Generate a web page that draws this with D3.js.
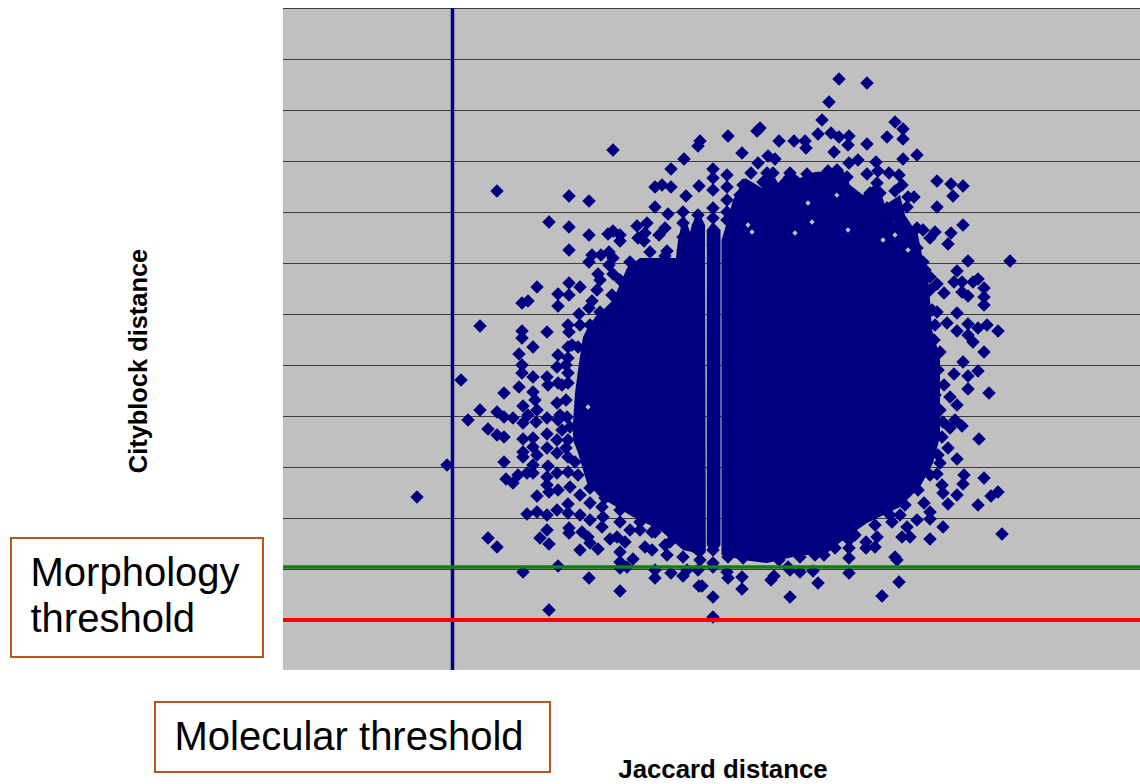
<!DOCTYPE html>
<html>
<head>
<meta charset="utf-8">
<title>Cityblock vs Jaccard distance</title>
<script src="https://cdn.jsdelivr.net/npm/d3@7"></script>
<style>
html, body { margin: 0; padding: 0; background: #fff; }
svg { display: block; font-family: "Liberation Sans", Arial, sans-serif; }
</style>
</head>
<body>
<script>
// the axes have no tick labels, so the units are arbitrary
const xDomain = [0, 85.7];
const yDomain = [0, 66.2];
const gridValues = [5, 10.1, 15.2, 20.3, 25.4, 30.5, 35.6, 40.7, 45.8, 50.9, 56, 61.1, 66.2];

const molecularThreshold = 16.95;
const morphologyThreshold = 10.3;
const redThreshold = 5;

const upperLeftPoints = [
    [33,52],[21.4,47.9],[28.6,47.4],[30.6,46.9],[41.7,52.9],[41.5,52.4],[40.1,51.1],[38.8,50.1],[37.2,48.3],[37.9,48.5],
    [38.8,48.3],[41.6,48.4],[40.3,47.4],[37.2,46.3],[38.5,45.6],[26.6,44.8],[28.6,44.3],[30.6,43.5],[28.6,42],[32.5,43.6],
    [33,43.9],[33.7,43.5],[33.7,42.9],[35.4,44.4],[36.4,44.7],[36.2,43.7],[35.5,43.2],[36.1,42.9],[38.2,44.2],[37.6,43.5],
    [30.9,41.5],[31.8,41.5],[32.6,41.8],[33,41.2],[30.6,40.8],[32.6,40.5],[33,39.6],[31.5,39.6],[31.7,39],[31.4,38],
    [25.4,38.3],[28.6,38.7],[29.7,38.3],[27.5,37.6],[28.6,37.5],[27.5,36.4],[24.5,36.9],[23.9,36.7],[30.9,36.9],[30.6,36.2],
    [19.7,34.4],[23.9,33.9],[26.4,33.8],[29.6,35.6],[28.5,34.5],[29.7,34.5],[28.6,33.8],[31.8,35.2],[23.9,33.2],
    [36.7,41.8],[38.4,41.9]
];

// points that stack up on the discrete Jaccard values
const columnPoints = [
    [40,45.8],[40,44.7],[40,43.3],[40,42],
    [41.5,45.5],[41.5,44.5],[41.5,43.5],[41.5,42.5],[41.5,41.5],
    [43,50.1],[43,49.2],[43,48],[43,46.2],[43,45.2],[43,43.8],[43,42.5],
    [44.4,49.5],[44.4,48.3],[44.4,47],[44.4,45.8],[44.4,45]
];

const upperRightPoints = [
    [55.6,59.1],[58.4,58.7],[54.6,56.8],[53.9,55],[61.2,54.8],[62,54.1],[47.7,54.2],[47.4,53.9],[44.5,53.4],[49.6,52.9],
    [51.1,52.9],[52.2,52.9],[52.3,52.2],[53.5,53.6],[54.8,53.7],[55.6,53.3],[56.6,53.4],[56.5,52.5],[58.4,52.6],[60.4,53.3],
    [62,53.1],[45.9,51.7],[55.1,51.8],[63.4,51.5],[62,51.1],[48.5,51.4],[49.2,51.1],[47.5,50.7],[57.5,51],[56.6,50.7],
    [59.3,50.8],[59.5,49.9],[46.8,49.7],[50.7,49.7],[50.7,49.3],[52.4,49.6],[54.5,49.9],[55.4,50],[58.4,49.6],[60.6,49.7],
    [61.6,49.5],[65.4,48.9],[66.8,48.6],[68,48.4],[67,47.4],[61.9,48.5],[61.2,47.9],[65.4,46.3],[63.1,47.3],[62.5,47.3],
    [62.4,46.3],[68,44.5],[66.8,43.7],[66.5,42.6],[68.5,40.9],[72.7,40.9],[67.4,39.9],[67.1,38.8],[67.9,38.8],[69,38.8],
    [69.5,39.1],[70.1,38.2],[70.1,37.3],[70.1,36.5],[67.9,37.8],[68.5,37.4],[66.1,37.7],[65.4,38.6],[64.7,39.3],[65.4,35.8],
    [67.4,35.7],[66.4,34.7],[67.4,33.9],[68.5,34.6],[69.5,34.2],[70.4,34.5],[71.5,33.9],[68.5,33.5],[63.4,44.2],[64,44],
    [65.2,43.8],[64.7,43.2],[62.4,43.3],[61.5,45.1],[63.4,42.2],[64,40.8],[46,48.5],[45.7,47.5],[45.9,46.3],[48.4,49.7],
    [48,48.8],[49,49.7],[50.5,48],[52,48],[53.2,47.5],[52.7,49],[54.5,49.3],[56.4,49.3],[56,47.8],[56.6,47.8],
    [58.7,47.7],[59.4,48.7],[59.7,47.7],[58.5,46.3],[60.4,46.2],[61,46.2]
];

const lowerLeftPoints = [
    [25,32.3],[23.6,31.6],[23.9,30.5],[23.9,29.7],[25,29.3],[17.8,29],[23.6,28.3],[22.1,27.7],[26.4,29.3],[26.5,28.5],
    [27.5,31.5],[28.5,31.2],[27.4,30.3],[28.5,29.7],[27.5,28.7],[28.5,28.7],[28.5,32.3],[29.5,32.3],[25,27.8],[25.2,27],
    [24,26.4],[19.7,26],[21.4,25.8],[18.5,25],[22.1,25.3],[23,25.2],[24,24.7],[24.5,25.5],[25.4,26],[25.3,24.8],
    [26.4,25.2],[27.4,26.7],[27.5,25],[20.5,24.1],[21.4,23.5],[22.1,23.3],[24,23.1],[25,23.2],[26.4,23.6],[25,22.3],
    [26.4,22.2],[24,21.8],[24,21.3],[25.4,21.5],[22.1,20.8],[25,20.5],[26.5,20.4],[16.4,20.5],[13.4,17.3],[22.3,19.1],
    [23,18.7],[23.5,19.5],[24.4,19.7],[25,19.7],[26.4,19.3],[26.4,18.5],[25.4,17.4],[26.6,17.8],[27.5,18],[28.7,18.3],
    [29.7,17.5],[27.4,19.7],[28.5,19.8],[28.5,21.3],[27.4,21.7],[27.4,23],[28.5,23],[28.7,24.3],[28.4,25.3],
    [24.4,15.6],[25.4,15.8],[26.4,15.5],[27.4,16],[28.5,16.6],[28.5,15.7],[29.7,15.5],[30.7,16.7],[30.7,15],[31.9,16.3],
    [32,15.3],[31.9,14.3],[33.7,14.8],[26.4,14],[25.7,13.2],[26.6,12.6],[20.5,13.2],[21.4,12.3],[28.6,14.2],[28.6,13.7],
    [29.9,13.8],[30.5,13.3],[30.7,12.7],[29.7,12],[31.5,12.1],[32.7,13.1],[33.4,13.3],[34.2,12.8],[33.7,11.8],[33.7,10.8],
    [35,11.1],[34.4,10.3],[33.7,10.2],[27.5,10.4],[24,9.8],[30.6,9.2],[33.7,7.9],[26.6,6],[37.2,10],[37.2,9.2],
    [38.8,9.7],[40,9.4],[40.4,10],[41.6,8.4],[43,7.3],[43,5.3],[41.5,10],[41.7,11],[43,10.3],[40,11.3],
    [38.4,11.5],[38.2,12.5],[36.9,12],[36.2,12.3],[35.7,14],[36.9,13.8],[34.7,14]
];

const lowerRightPoints = [
    [68,30.8],[70.1,31.8],[69,32.8],[69.5,29.9],[68.5,29.4],[67.1,29.6],[68.5,28.1],[70.6,27.7],[67.4,26.5],[66.7,27.3],
    [66,24.8],[67.2,25],[67.9,24.4],[66.7,24.2],[69.6,23.1],[65.9,23.3],[66.5,22.2],[67.4,21.1],[65.7,20.7],[65.4,19.6],
    [68.1,19.5],[68,18.6],[70.1,19.2],[65.9,18.5],[66,17.7],[67.4,17.5],[66.5,16.6],[69.5,16.5],[71.5,17.8],[70.8,17.4],
    [64.1,16.7],[64.7,15.8],[64.7,15.1],[66,14.3],[63.4,15],[62.4,14.3],[60.9,14.8],[61.7,15.5],[71.9,13.6],[64.7,13.1],
    [62.7,13.3],[61.9,13.3],[59.4,13.3],[58.3,12.8],[58.3,12.2],[59.2,12.3],[56.6,13],[56.6,12.2],[56.6,11.2],[61.2,11.3],
    [61.4,11],[56.6,9.7],[61.6,8.8],[59.9,7.4],[54.1,11.5],[53,9.9],[53.5,8.7],[50.7,7.3],[51.7,9.8],[50.7,10],
    [49.1,9.4],[48.8,9],[49.6,11],[45.9,9.3],[45.9,8.1],[44.5,9.2],[44.4,9.8],[43,10.7],[41.9,8.4],[46,11.2],
    [44.5,11.3],[43,12],[51.7,11.3],[50.5,10.3]
];

// points sitting on the rim of the solid part
const rimPoints = [
    [65.1,33],[65.7,31.8],[65.5,30],[66.1,28.5],[65.2,27.5],[65.7,26],[64.7,22.5],[65.5,21.5],[64.7,19.5],[63.5,18],
    [62.2,16.5],[60.7,15.5],[59.2,14.5],[57.2,13.5],[55.2,12.2],[53.2,11.5],[64.2,40],[64.7,38],[64.9,36],[65.2,34.5],
    [28.9,32.5],[28.3,30.5],[27.9,28.5],[28.3,27],[27.7,25.5],[27.9,24],[28.3,22.2],[29.2,20.8],[29.5,19.5],[30.7,18.2],
    [32.2,17.2],[33.7,16],[35.7,14.8],[37.2,13.8],[38.7,12.8],[34.7,40.8],[38.2,41.4],[33.7,39],[32.9,37.5],[31.7,35.8],
    [30.7,34.5]
];

// the middle of the cloud is solid, single points can't be read there,
// so these are the outlines of the filled parts, split at the two thin gaps
const coreLeft = [
    [30,33.3],[30.7,34.7],[33,37],[34.4,40.2],[35.7,41.2],[39.3,41.2],[39.5,43],[40.1,45.6],[40.7,43.8],[40.9,44.5],
    [41.5,46],[42.2,44.5],[42.28,11.8],[41.7,11.2],[40.9,11.8],[40,12],[37.7,14],[35,15.3],[31.7,17.3],[30.4,18.7],
    [29.5,21.7],[29,23],[29,24.7],[29.2,27.7],[29.6,30.7]
];
const coreMiddle = [[42.38,44],[43,44.8],[43.75,44],[43.75,12.5],[43,11.4],[42.38,12.5]];
const coreRight = [
    [43.85,11.5],[43.85,43],[44.4,44.8],[45,47],[46.2,49.2],[47.9,48.2],[48.9,49.8],[49.5,48.7],[50.7,50],[51.7,49.2],
    [53.2,49.8],[56,50],[56.7,48.5],[58,47.5],[59.4,48.8],[60.2,46.5],[61.7,47.5],[62.2,45.5],[63.5,43.5],[63.9,41.5],
    [64.5,39.3],[64.7,37],[64.9,34],[65.7,31.3],[65.7,26.3],[65.7,23.3],[65,20.7],[63.7,18.3],[61.7,16.3],[58.4,14.7],
    [56.4,13.3],[54.4,11.7],[51.4,11.4],[48.4,10.7],[46,11]
];

// small openings left inside the solid part
const coreHoles = [
    [46.5,44.5],[46.9,43.8],[51.2,43.7],[52.9,44.8],[52.5,46.7],[55.4,47.5],[56.5,44],[61.2,45],[60,43],[61.2,43.5],
    [62.5,42],[30.5,26.3],[33,15.7]
];

const config = {
    width: 1140,
    height: 784,
    plot: { left: 283, right: 1140, top: 8, bottom: 670 },
    pointColor: '#000080',
    gridColor: '#c0c0c0',
    pointSize: 91,
    holeSize: 14,
};

const svg = d3.select('body')
    .append('svg')
    .attr('width', config.width)
    .attr('height', config.height);

const x = d3.scaleLinear().domain(xDomain).range([config.plot.left, config.plot.right]);
const y = d3.scaleLinear().domain(yDomain).range([config.plot.bottom, config.plot.top]);

svg.append('rect')
    .attr('x', config.plot.left)
    .attr('y', config.plot.top)
    .attr('width', config.plot.right - config.plot.left)
    .attr('height', config.plot.bottom - config.plot.top)
    .attr('fill', config.gridColor);

// Gridlines
const grid = svg.append('g')
    .attr('transform', `translate(${config.plot.left},0)`)
    .call(d3.axisLeft(y)
        .tickValues(gridValues)
        .tickSize(-(config.plot.right - config.plot.left))
        .tickFormat(''));
grid.select('.domain').remove();
grid.selectAll('line').attr('stroke', '#3a3a3a').attr('stroke-width', 1);

// Dense core
const outline = d3.line().x(d => x(d[0])).y(d => y(d[1])).curve(d3.curveLinearClosed);
svg.append('g')
    .selectAll('path')
    .data([coreLeft, coreMiddle, coreRight]).enter()
    .append('path')
    .attr('d', outline)
    .attr('fill', config.pointColor);

const hole = d3.symbol().type(d3.symbolSquare).size(config.holeSize);
svg.append('g')
    .selectAll('path')
    .data(coreHoles).enter()
    .append('path')
    .attr('d', hole)
    .attr('transform', d => `translate(${x(d[0])},${y(d[1])}) rotate(45)`)
    .attr('fill', config.gridColor);

// Points
const diamond = d3.symbol().type(d3.symbolSquare).size(config.pointSize);
const points = [].concat(upperLeftPoints, columnPoints, upperRightPoints, lowerLeftPoints, lowerRightPoints, rimPoints);
svg.append('g')
    .selectAll('path')
    .data(points).enter()
    .append('path')
    .attr('d', diamond)
    .attr('transform', d => `translate(${x(d[0])},${y(d[1])}) rotate(45)`)
    .attr('fill', config.pointColor);

// Threshold lines
svg.append('line')
    .attr('x1', x(molecularThreshold)).attr('x2', x(molecularThreshold))
    .attr('y1', config.plot.top).attr('y2', config.plot.bottom)
    .attr('stroke', config.pointColor).attr('stroke-width', 3.5);
svg.append('line')
    .attr('x1', config.plot.left).attr('x2', config.plot.right)
    .attr('y1', y(morphologyThreshold)).attr('y2', y(morphologyThreshold))
    .attr('stroke', '#108010').attr('stroke-width', 3.5);
svg.append('line')
    .attr('x1', config.plot.left).attr('x2', config.plot.right)
    .attr('y1', y(redThreshold)).attr('y2', y(redThreshold))
    .attr('stroke', '#ff0000').attr('stroke-width', 4);

// Axis titles
svg.append('text')
    .attr('transform', 'translate(147,361) rotate(-90)')
    .attr('text-anchor', 'middle')
    .attr('font-size', 25.4)
    .attr('font-weight', 'bold')
    .text('Cityblock distance');
svg.append('text')
    .attr('x', 723)
    .attr('y', 778)
    .attr('text-anchor', 'middle')
    .attr('font-size', 25.8)
    .attr('font-weight', 'bold')
    .text('Jaccard distance');

// Threshold labels
const boxes = [
    { x: 11, y: 538, w: 252, h: 119 },
    { x: 155, y: 702, w: 395, h: 70 },
];
svg.append('g')
    .selectAll('rect')
    .data(boxes).enter()
    .append('rect')
    .attr('x', d => d.x)
    .attr('y', d => d.y)
    .attr('width', d => d.w)
    .attr('height', d => d.h)
    .attr('fill', '#fff')
    .attr('stroke', '#b4591f')
    .attr('stroke-width', 2);

const labels = [
    { x: 30.5, y: 586, text: 'Morphology' },
    { x: 30.5, y: 632, text: 'threshold' },
    { x: 174.5, y: 750, text: 'Molecular threshold' },
];
svg.append('g')
    .selectAll('text')
    .data(labels).enter()
    .append('text')
    .attr('x', d => d.x)
    .attr('y', d => d.y)
    .attr('font-size', 40)
    .attr('fill', '#000')
    .text(d => d.text);
</script>
</body>
</html>
